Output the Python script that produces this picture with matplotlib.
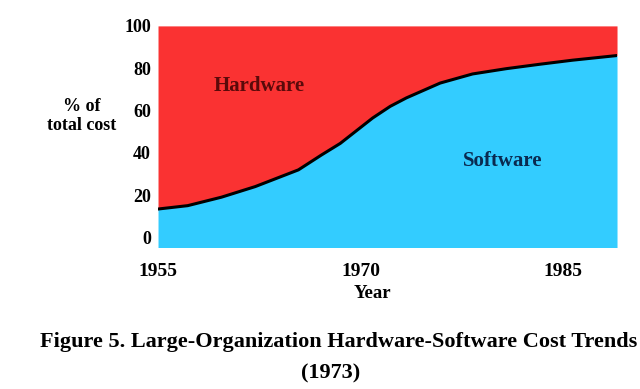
import matplotlib.pyplot as plt
import numpy as np

# software share of total cost (%)
years = np.array([1955.0, 1957.2, 1959.7, 1962.2, 1965.4, 1967.1, 1968.5, 1969.6,
                  1970.9, 1972.2, 1973.4, 1975.9, 1978.3, 1980.8, 1983.3, 1985.7, 1988.7, 1989.0])
software = np.array([13.5, 15.1, 19.1, 24.1, 32.0, 39.0, 44.5, 50.0,
                     56.5, 62.0, 66.0, 73.0, 77.3, 79.8, 81.9, 83.8, 85.8, 86.0])
hardware_top = 100

year_ticks = [1955, 1970, 1985]
pct_ticks = [0, 20, 40, 60, 80, 100]

red = '#FA3232'
cyan = '#33CCFF'

plt.rcParams['font.family'] = 'Liberation Serif'
plt.rcParams['font.weight'] = 'bold'
plt.rcParams['axes.labelweight'] = 'bold'

fig = plt.figure(figsize=(6.4, 3.89), dpi=100)
ax = fig.add_axes([0.2469, 0.3663, 0.7172, 0.5753])

ax.fill_between(years, -10, software, color=cyan, lw=0)
ax.fill_between(years, software, hardware_top, color=red, lw=0)
ax.plot(years, software, color='black', lw=2.2, solid_joinstyle='round')

ax.set_xlim(1955, 1989)
ax.set_ylim(-4.2, 101.5)
ax.set_xticks(year_ticks)
ax.set_yticks(pct_ticks)
ax.tick_params(length=0, labelsize=13)
ax.tick_params(axis='x', pad=12, labelsize=14)
ax.tick_params(axis='y', pad=5)
for s in ax.spines.values():
    s.set_visible(False)

ax.text(1962.5, 71.5, 'Hardware', fontsize=15, color='#5a0a0a',
        ha='center', va='center', fontweight='bold')
ax.text(1980.5, 36.2, 'Software', fontsize=15, color='#0a2a50',
        ha='center', va='center', fontweight='bold')

ax.set_ylabel('% of\ntotal cost', rotation=0, fontsize=13, ha='center', va='center',
              linespacing=1.2, fontweight='bold')
ax.yaxis.set_label_coords(-0.1656, 0.583)
ax.set_xlabel('Year', fontsize=13.5, va='center', fontweight='bold')
ax.xaxis.set_label_coords(0.468, -0.208)

fig.text(0.529, 0.122, 'Figure 5. Large-Organization Hardware-Software Cost Trends',
         fontsize=16, ha='center', va='center', fontweight='bold')
fig.text(0.516, 0.040, '(1973)', fontsize=16, ha='center', va='center',
         fontweight='bold')

fig.savefig('out.png', dpi=100)
